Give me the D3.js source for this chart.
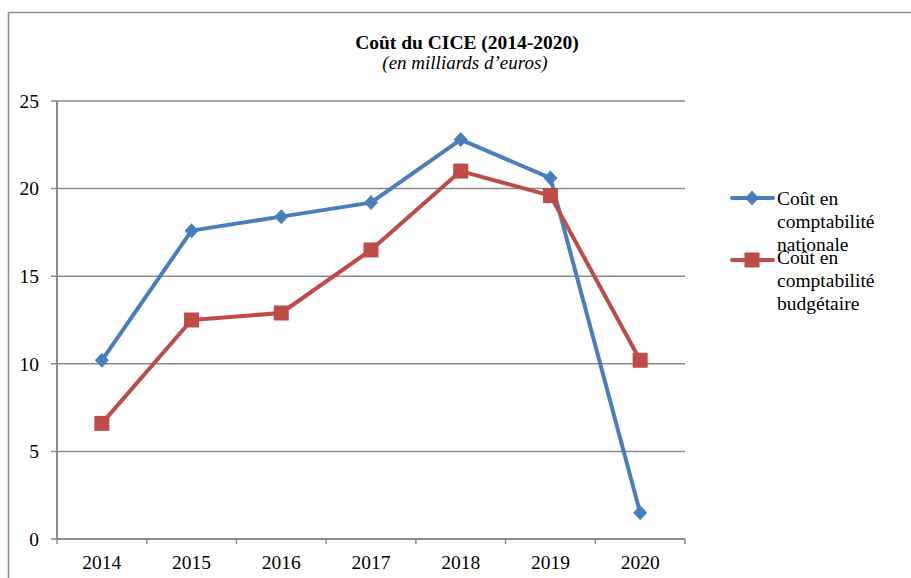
<!DOCTYPE html>
<html>
<head>
<meta charset="utf-8">
<script src="https://cdn.jsdelivr.net/npm/d3@7"></script>
<style>
  body { margin: 0; background: #fff; }
</style>
</head>
<body>
<div id="chart"></div>
<script>
const years = ['2014', '2015', '2016', '2017', '2018', '2019', '2020']
const nationale = [10.2, 17.6, 18.4, 19.2, 22.8, 20.6, 1.5]
const budgetaire = [6.6, 12.5, 12.9, 16.5, 21.0, 19.6, 10.2]
const yTicks = [0, 5, 10, 15, 20, 25]

const params = {
  width: 911,
  height: 578,
  marginTop: 101,
  marginLeft: 57,
  plotRight: 685,
  plotBottom: 539,
}

const serif = "'Liberation Serif', 'DejaVu Serif', 'Times New Roman', serif"

const svg = d3.select('#chart')
  .append('svg')
  .attr('width', params.width)
  .attr('height', params.height)
  .attr('font-family', serif)
  .style('font-family', serif)

// outer chart border (cut by the window on the right and bottom)
svg.append('rect')
  .attr('x', 8.5).attr('y', 12.5)
  .attr('width', 1000).attr('height', 700)
  .attr('fill', 'none')
  .attr('stroke', '#8a8a8a')
  .attr('stroke-width', 1.5)

const x = d3.scaleBand()
  .domain(years)
  .range([params.marginLeft, params.plotRight])

const y = d3.scaleLinear()
  .domain([0, 25])
  .range([params.plotBottom, params.marginTop])

// gridlines + left ticks
svg.append('g')
  .selectAll('line')
  .data(yTicks)
  .enter()
  .append('line')
  .attr('x1', params.marginLeft - 6)
  .attr('x2', params.plotRight)
  .attr('y1', d => y(d))
  .attr('y2', d => y(d))
  .attr('stroke', '#8a8a8a')
  .attr('stroke-width', 1.5)

svg.append('g')
  .selectAll('text')
  .data(yTicks)
  .enter()
  .append('text')
  .attr('x', 39)
  .attr('y', d => y(d))
  .attr('dy', '0.35em')
  .attr('text-anchor', 'end')
  .style('font-size', '19.5px')
  .text(d => d)

// y axis line
svg.append('line')
  .attr('x1', params.marginLeft).attr('x2', params.marginLeft)
  .attr('y1', y(25)).attr('y2', y(0))
  .attr('stroke', '#8a8a8a')
  .attr('stroke-width', 2)

// x axis
const xAxis = svg.append('g')
  .attr('transform', `translate(0,${params.plotBottom})`)

xAxis.append('line')
  .attr('x1', params.marginLeft).attr('x2', params.plotRight)
  .attr('stroke', '#8a8a8a')
  .attr('stroke-width', 2)

xAxis.selectAll('.tick')
  .data(years.concat(['end']))
  .enter()
  .append('line')
  .attr('x1', (d, i) => i < years.length ? x(d) : params.plotRight)
  .attr('x2', (d, i) => i < years.length ? x(d) : params.plotRight)
  .attr('y1', 0).attr('y2', 5)
  .attr('stroke', '#8a8a8a')
  .attr('stroke-width', 1.5)

xAxis.selectAll('text')
  .data(years)
  .enter()
  .append('text')
  .attr('x', d => x(d) + x.bandwidth() / 2)
  .attr('y', 30)
  .attr('text-anchor', 'middle')
  .style('font-size', '19.5px')
  .text(d => d)

// series
const series = [
  { name: ['Coût en', 'comptabilité', 'nationale'], values: nationale, color: '#4a7ebb', marker: 'diamond' },
  { name: ['Coût en', 'comptabilité', 'budgétaire'], values: budgetaire, color: '#be4b48', marker: 'square' },
]

const line = d3.line()
  .x((d, i) => x(years[i]) + x.bandwidth() / 2)
  .y(d => y(d))

function marker(g, type, color) {
  if (type === 'diamond') {
    g.append('path')
      .attr('d', 'M0,-7.5L7,0L0,7.5L-7,0Z')
      .attr('fill', color)
  } else {
    g.append('rect')
      .attr('x', -7.5).attr('y', -7.5)
      .attr('width', 15).attr('height', 15)
      .attr('fill', color)
  }
}

series.forEach(s => {
  svg.append('path')
    .datum(s.values)
    .attr('d', line)
    .attr('fill', 'none')
    .attr('stroke', s.color)
    .attr('stroke-width', 4)
    .attr('stroke-linejoin', 'round')

  s.values.forEach((v, i) => {
    const g = svg.append('g')
      .attr('transform', `translate(${x(years[i]) + x.bandwidth() / 2},${y(v)})`)
    marker(g, s.marker, s.color)
  })
})

// legend (the two entries overlap slightly, as in the original)
const legendY = [198, 260]
series.forEach((s, k) => {
  const lg = svg.append('g').attr('transform', `translate(732,${legendY[k]})`)
  lg.append('line')
    .attr('x1', 0).attr('x2', 41)
    .attr('stroke', s.color)
    .attr('stroke-width', 4)
    .attr('stroke-linecap', 'round')
  const m = lg.append('g').attr('transform', 'translate(20,0)')
  marker(m, s.marker, s.color)
  s.name.forEach((t, j) => {
    lg.append('text')
      .attr('x', 45)
      .attr('y', 7 + j * 23 - (k === 1 ? 3 : 0))
      .style('font-size', '19.5px')
      .text(t)
  })
})

// title
svg.append('text')
  .attr('x', 467)
  .attr('y', 49)
  .attr('text-anchor', 'middle')
  .style('font-size', '19.5px')
  .style('font-weight', 'bold')
  .text('Coût du CICE (2014-2020)')

svg.append('text')
  .attr('x', 465)
  .attr('y', 69)
  .attr('text-anchor', 'middle')
  .style('font-size', '19px')
  .style('font-style', 'italic')
  .text('(en milliards d’euros)')
</script>
</body>
</html>
